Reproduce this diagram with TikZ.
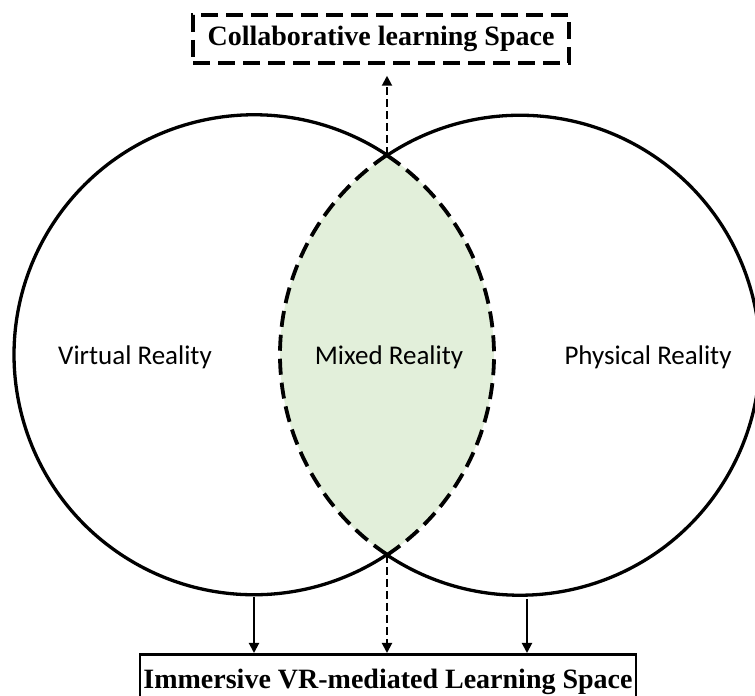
\documentclass[tikz,border=0pt]{standalone}
\usepackage{fontspec}
\setmainfont{Liberation Serif}
\newfontfamily\labelfont{Carlito}
\usetikzlibrary{arrows.meta}
\definecolor{mixedgreen}{HTML}{E2EFDA}

\begin{document}
\begin{tikzpicture}
[
    x=1pt, y=1pt,
    ring/.style={line width=3.3pt},
    lens/.style={line width=3.8pt, dash pattern=on 16pt off 8pt},
    spacebox/.style={draw, line width=2.8pt, inner sep=0pt,
        font=\bfseries\fontsize{28}{30}\selectfont},
    reality/.style={font=\labelfont\fontsize{27}{29}\selectfont},
    feed/.style={line width=2pt, -{Triangle[length=10pt,width=10pt]}},
    feed dashed/.style={feed, dash pattern=on 8pt off 4pt}
]
    \useasboundingbox (0,0) rectangle (755,696);
    \clip (0,0) rectangle (755,696);

    \coordinate (vr) at (254,341);
    \coordinate (pr) at (520,341);
    \coordinate (top) at (387,541);
    \coordinate (bot) at (387,141);
    \coordinate (vrfoot) at (254,99);
    \coordinate (prfoot) at (527,97);

    % overlap of the two circles
    \begin{scope}
        \clip (vr) circle (240);
        \fill[mixedgreen] (pr) circle (240);
    \end{scope}

    \draw[ring] (top) arc[start angle=56.35, end angle=303.65, radius=240];
    \draw[ring] (bot) arc[start angle=-123.65, end angle=123.65, radius=240];
    \draw[lens] (top) arc[start angle=123.65, end angle=236.35, radius=240];
    \draw[lens] (bot) arc[start angle=-56.35, end angle=56.35, radius=240];

    \node[reality] (vrtext) at (135,339) {Virtual Reality};
    \node[reality] (mrtext) at (389,339) {Mixed Reality};
    \node[reality] (prtext) at (648,339) {Physical Reality};

    \node[spacebox, line width=3.5pt, dash pattern=on 17pt off 8pt,
        minimum width=376pt, minimum height=48pt]
        (cls) at (381,657) {Collaborative learning Space};
    \node[spacebox, anchor=north, minimum width=496pt, minimum height=55pt]
        (ivr) at (388,43) {Immersive VR-mediated Learning Space};

    \draw[feed dashed, shorten >=11pt] (top) -- (cls.south -| top);
    \draw[feed dashed] (bot) -- (ivr.north -| bot);
    \draw[feed] (vrfoot) -- (ivr.north -| vrfoot);
    \draw[feed] (prfoot) -- (ivr.north -| prfoot);
\end{tikzpicture}
\end{document}
